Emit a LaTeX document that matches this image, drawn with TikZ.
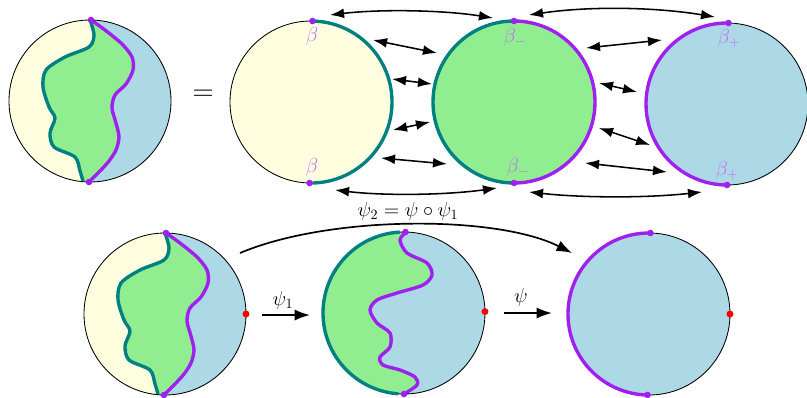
\documentclass[tikz,border=0pt]{standalone}
\usepackage{amsmath}
\usetikzlibrary{arrows.meta,calc}
\definecolor{dskyellow}{HTML}{FFFFE0}
\definecolor{dskgreen}{HTML}{90EE90}
\definecolor{dskblue}{HTML}{ADD8E6}
\definecolor{dskteal}{HTML}{008080}
\definecolor{dskpurple}{HTML}{A020F0}

\tikzset{
  rim/.style={draw=black, line width=0.6pt},
  tealline/.style={dskteal, line width=2.4pt},
  purpline/.style={dskpurple, line width=2.4pt},
  lbl/.style={text=dskpurple!65, font=\Large},
  dbl/.style={{Latex[length=10pt,width=7pt]}-{Latex[length=10pt,width=7pt]}, line width=1.1pt},
  mapto/.style={-{Latex[length=11pt,width=8pt]}, line width=1.4pt},
  % disk split by a teal and a purple curve
  mixdisk/.pic={
    \begin{scope}
      \clip (0,0) circle (81);
      \fill[dskblue] (0,0) circle (81);
      \fill[dskgreen] (1,-100) -- plot[smooth] coordinates {(1,-81) (15,-71) (32,-57) (42,-44) (43,-31) (36,-17) (25,-6) (22,7) (26,22) (29,36) (26,49) (19,60) (10,70) (-1,81)} -- (-1,100) -- (-100,100) -- (-100,-100) -- cycle;
      \fill[dskyellow] (0,-100) -- plot[smooth] coordinates {(0,-81) (4,-66) (-1,-54) (-25,-44) (-44,-31) (-47,-14) (-41,6) (-35,17) (-40,32) (-36,46) (-15,56) (-10,70) (-7,80)} -- (-7,100) -- (-100,100) -- (-100,-100) -- cycle;
    \end{scope}
    \draw[tealline] plot[smooth] coordinates {(0,-81) (4,-66) (-1,-54) (-25,-44) (-44,-31) (-47,-14) (-41,6) (-35,17) (-40,32) (-36,46) (-15,56) (-10,70) (-7,80)};
    \draw[purpline] plot[smooth] coordinates {(1,-81) (15,-71) (32,-57) (42,-44) (43,-31) (36,-17) (25,-6) (22,7) (26,22) (29,36) (26,49) (19,60) (10,70) (-1,81)};
    \draw[rim] (0,0) circle (81);
    \fill[dskpurple] (1,-81) circle (3.3) (-1,81) circle (3.3);
  }
}

\begin{document}
\begin{tikzpicture}[x=0.025cm, y=-0.025cm, >=Latex]
  \useasboundingbox (0,0) rectangle (807,397);

  % top row
  \coordinate (A) at (90,101);
  \coordinate (Y) at (311,102);
  \coordinate (G) at (514,102);
  \coordinate (B) at (727,104);
  \pic at (A) {mixdisk};
  \node[font=\huge] (eq) at (203,95) {$=$};

  \fill[dskyellow] (Y) circle (81);
  \draw[rim] (Y) circle (81);
  \draw[tealline] ([shift={(271:81)}]Y) arc[start angle=271, end angle=449, radius=81];
  \fill[dskpurple] ([shift={(271:81)}]Y) circle (3.3) ([shift={(91:81)}]Y) circle (3.3);

  \fill[dskgreen] (G) circle (81);
  \draw[tealline] ([shift={(270:81)}]G) arc[start angle=270, end angle=90, radius=81];
  \draw[purpline] ([shift={(270:81)}]G) arc[start angle=270, end angle=450, radius=81];
  \fill[dskpurple] ([shift={(270:81)}]G) circle (3.3) ([shift={(90:81)}]G) circle (3.3);

  \fill[dskblue] (B) circle (81);
  \draw[rim] (B) circle (81);
  \draw[purpline] ([shift={(271:81)}]B) arc[start angle=271, end angle=90, radius=81];
  \fill[dskpurple] ([shift={(271:81)}]B) circle (3.3) ([shift={(90:81)}]B) circle (3.3);

  \node[lbl] (yt) at (312,36) {$\beta$};
  \node[lbl] (yb) at (312,167) {$\beta$};
  \node[lbl] (gt) at (515,38) {$\beta_-$};
  \node[lbl] (gb) at (518,168) {$\beta_-$};
  \node[lbl] (bt) at (729,39) {$\beta_+$};
  \node[lbl] (bb) at (727,171) {$\beta_+$};

  % gluing arrows
  \foreach \n/\ax/\ay/\bx/\by in {yg1/373/40/437/53, yg2/392/79/432/84, yg3/393/130/430/122, yg4/381/158/447/164,
      gb1/586/48/662/40, gb2/599/83/637/92, gb3/599/128/650/145, gb4/585/163/667/172}{
    \coordinate (\n-a) at (\ax,\ay);
    \coordinate (\n-b) at (\bx,\by);
    \draw[dbl] (\n-a) -- (\n-b);
  }
  \coordinate (ygt-a) at (330,15);
  \coordinate (ygt-b) at (493,18);
  \coordinate (ygb-a) at (335,190);
  \coordinate (ygb-b) at (497,188);
  \coordinate (gbt-a) at (529,15);
  \coordinate (gbt-b) at (715,17);
  \coordinate (gbb-a) at (529,192);
  \coordinate (gbb-b) at (702,192);
  \draw[dbl] (ygt-a) .. controls +(50,-6) and +(-50,-8) .. (ygt-b);
  \draw[dbl] (ygb-a) .. controls +(50,6) and +(-50,7) .. (ygb-b);
  \draw[dbl] (gbt-a) .. controls +(60,-9) and +(-60,-10) .. (gbt-b);
  \draw[dbl] (gbb-a) .. controls +(55,6) and +(-55,6) .. (gbb-b);

  % bottom row
  \coordinate (P1) at (165,314);
  \coordinate (P2) at (404,313);
  \coordinate (P3) at (649,314);
  \pic at (P1) {mixdisk};
  \fill[red] ([shift={(0:81)}]P1) circle (3.5);

  \begin{scope}
    \clip (P2) circle (81);
    \fill[dskblue] (P2) circle (81);
    \fill[dskgreen, shift={(P2)}] (2,-100) -- plot[smooth] coordinates {(2,-81) (-4,-73) (3,-60) (23,-50) (28,-38) (19,-28) (-7,-20) (-27,-13) (-34,-3) (-27,10) (-14,20) (-14,34) (-24,44) (-21,52) (-4,57) (11,64) (13,72) (0,81)} -- (0,100) -- (-100,100) -- (-100,-100) -- cycle;
  \end{scope}
  \draw[purpline, shift={(P2)}] plot[smooth] coordinates {(2,-81) (-4,-73) (3,-60) (23,-50) (28,-38) (19,-28) (-7,-20) (-27,-13) (-34,-3) (-27,10) (-14,20) (-14,34) (-24,44) (-21,52) (-4,57) (11,64) (13,72) (0,81)};
  \draw[rim] (P2) circle (81);
  \draw[tealline] ([shift={(267:81)}]P2) arc[start angle=267, end angle=94, radius=81];
  \fill[dskpurple] ([shift={(271:81)}]P2) circle (3.3) ([shift={(90:81)}]P2) circle (3.3);
  \fill[red] ([shift={(359:81)}]P2) circle (3.5);

  \fill[dskblue] (P3) circle (81);
  \draw[rim] (P3) circle (81);
  \draw[purpline] ([shift={(271:81)}]P3) arc[start angle=271, end angle=91, radius=81];
  \fill[dskpurple] ([shift={(271:81)}]P3) circle (3.3) ([shift={(91:81)}]P3) circle (3.3);
  \fill[red] ([shift={(0:81)}]P3) circle (3.5);

  % maps
  \coordinate (m1-a) at (262,315);
  \coordinate (m1-b) at (310,315);
  \coordinate (m2-a) at (504,313);
  \coordinate (m2-b) at (552,313);
  \coordinate (m3-a) at (240,253);
  \coordinate (m3-b) at (572,253);
  \draw[mapto] (m1-a) -- (m1-b);
  \draw[mapto] (m2-a) -- (m2-b);
  \draw[-{Latex[length=11pt,width=8pt]}, line width=1.2pt] (m3-a) .. controls +(90,-38) and +(-75,-38) .. (m3-b);
  \node[font=\Large] (psi1) at (283,300) {$\psi_1$};
  \node[font=\Large] (psi) at (521,297) {$\psi$};
  \node[font=\Large] (psi2) at (408,211) {$\psi_2 = \psi\circ\psi_1$};
\end{tikzpicture}
\end{document}
